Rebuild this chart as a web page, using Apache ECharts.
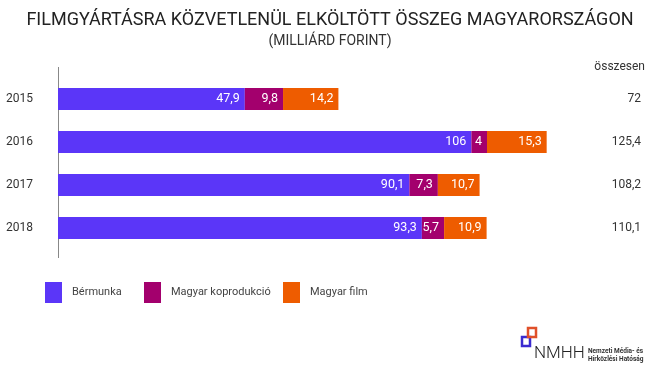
<!DOCTYPE html>
<html>
<head>
<meta charset="utf-8">
<script src="https://cdn.jsdelivr.net/npm/echarts@6/dist/echarts.min.js"></script>
<style>html,body{margin:0;padding:0;background:#fff;}#c{width:660px;height:375px;}</style>
</head>
<body>
<div id="c"></div>
<script>
const years = ['2015', '2016', '2017', '2018'];
const bermunka = [47.9, 106, 90.1, 93.3];
const koprodukcio = [9.8, 4, 7.3, 5.7];
const magyarFilm = [14.2, 15.3, 10.7, 10.9];
const totals = [72, 125.4, 108.2, 110.1];
const seriesNames = ['Bérmunka', 'Magyar koprodukció', 'Magyar film'];

const FONT = 'Roboto';
const fmt = v => String(v).replace('.', ',');
const chart = echarts.init(document.getElementById('c'));
const colors = ['#5b36f8', '#a3006d', '#ee5c00'];
const lbl = { show: true, position: 'insideRight', distance: 5, color: '#fff', fontSize: 12.5, fontFamily: FONT, formatter: p => fmt(p.value) };
function mk(name, data, i) {
  return { name, type: 'bar', stack: 'total', data, barWidth: 22, itemStyle: { color: colors[i] }, label: lbl, emphasis: { disabled: true } };
}
const legendLefts = [45, 144, 283];
chart.setOption({
  animation: false,
  textStyle: { fontFamily: FONT },
  title: [
    { text: 'FILMGYÁRTÁSRA KÖZVETLENÜL ELKÖLTÖTT ÖSSZEG MAGYARORSZÁGON', left: 'center', top: 6, textStyle: { fontSize: 18, fontWeight: 'normal', color: '#222', fontFamily: FONT } },
    { text: '(MILLIÁRD FORINT)', left: 'center', top: 29, textStyle: { fontSize: 14, fontWeight: 'normal', color: '#333', fontFamily: FONT } }
  ],
  legend: seriesNames.map((n, i) => ({
    left: legendLefts[i], top: 282, padding: 0, itemWidth: 17, itemHeight: 21, itemGap: 10, icon: 'rect',
    data: [n],
    textStyle: { fontSize: 11, color: '#444', fontFamily: FONT, padding: [0, 0, 0, 5] }
  })),
  grid: { left: 58, top: 77.5, width: 585, height: 172 },
  xAxis: { type: 'value', min: 0, max: 150, show: false },
  yAxis: [
    { type: 'category', data: years, inverse: true, axisLine: { show: false }, axisTick: { show: false },
      axisLabel: { margin: 25, fontSize: 12, color: '#333', fontFamily: FONT } },
    { type: 'category', data: years, inverse: true, position: 'right', axisLine: { show: false }, axisTick: { show: false },
      axisLabel: { margin: -2, align: 'right', fontSize: 12, color: '#333', fontFamily: FONT, formatter: (v, i) => fmt(totals[i]) } }
  ],
  series: [mk(seriesNames[0], bermunka, 0), mk(seriesNames[1], koprodukcio, 1), mk(seriesNames[2], magyarFilm, 2)],
  graphic: [
    { type: 'line', shape: { x1: 58.5, y1: 67, x2: 58.5, y2: 258 }, style: { stroke: '#888', lineWidth: 1 }, silent: true },
    { type: 'text', right: 15, top: 61, style: { text: 'összesen', fontSize: 12, fill: '#333', fontFamily: FONT } },
    { type: 'rect', shape: { x: 522, y: 337, width: 8, height: 9 }, style: { fill: 'none', stroke: '#3a2ad0', lineWidth: 2.5 } },
    { type: 'rect', shape: { x: 528, y: 328, width: 8, height: 9 }, style: { fill: 'none', stroke: '#e0502a', lineWidth: 2.5 } },
    { type: 'text', x: 534, y: 345, style: { text: 'NMHH', fontSize: 17, fill: '#222', fontFamily: FONT, fontWeight: 300 } },
    { type: 'text', x: 588, y: 347, style: { text: 'Nemzeti Média- és\nHírközlési Hatóság', fontSize: 6.5, lineHeight: 8, fontWeight: 'bold', fill: '#333', fontFamily: FONT } }
  ]
});
</script>
</body>
</html>
